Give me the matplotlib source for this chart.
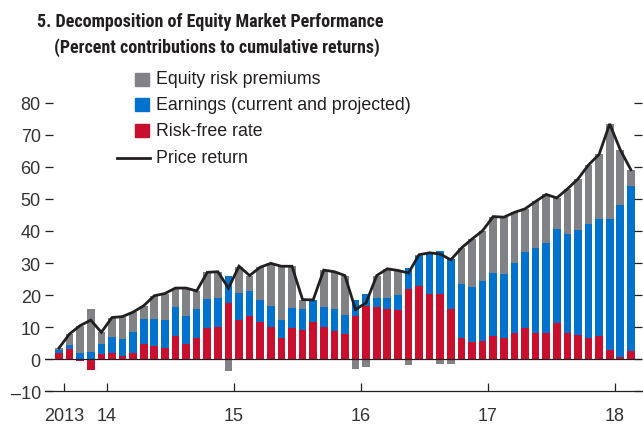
import matplotlib
matplotlib.use("Agg")
import matplotlib.pyplot as plt
from matplotlib import font_manager
from matplotlib.patches import Rectangle
from matplotlib.lines import Line2D
import numpy as np

# valores (contribuicoes em %), mensal ago/2013 - fev/2018
risk_free = [2.0, 3.3, -0.7, -3.5, 1.5, 2.1, 1.0, 2.1, 4.8, 4.2, 3.5, 7.1, 4.6, 6.7, 9.6, 10.2,
             17.6, 12.3, 13.5, 11.5, 10.1, 6.7, 9.6, 9.1, 11.5, 10.1, 8.8, 7.8, 13.5, 16.5, 16.3, 15.7,
             15.3, 22.0, 22.7, 20.4, 20.2, 15.8, 6.7, 5.4, 5.8, 7.1, 6.7, 8.2, 9.6, 8.2, 8.2, 11.4,
             8.2, 7.6, 6.7, 7.1, 2.9, 0.8, 2.7]
earnings = [0.9, 1.0, 2.0, 2.3, 3.3, 4.7, 5.3, 6.4, 7.9, 8.5, 8.8, 9.2, 8.9, 9.0, 9.2, 8.9,
            8.4, 8.4, 7.8, 7.0, 6.4, 5.6, 6.4, 6.6, 7.0, 6.2, 6.9, 6.0, 5.0, 3.9, 2.8, 3.4,
            4.8, 6.5, 9.6, 12.6, 13.6, 15.5, 16.8, 17.2, 18.7, 19.9, 19.9, 21.9, 23.9, 26.5, 28.1, 29.2,
            30.9, 32.7, 35.5, 36.7, 40.9, 47.3, 51.4]
equity_risk = [0.6, 3.6, 8.5, 13.4, 3.6, 6.2, 7.0, 6.2, 4.0, 7.1, 8.2, 5.9, 8.7, 5.6, 8.3, 8.2,
               -3.8, 8.1, 4.8, 10.2, 13.4, 16.7, 13.0, 2.9, 0.0, 11.5, 11.6, 12.3, -3.2, -2.3, 7.0, 9.1,
               7.6, -1.7, 0.3, 0.2, -1.5, -1.5, 11.2, 14.9, 15.6, 17.5, 17.7, 15.7, 13.4, 14.5, 15.1, 9.7,
               14.0, 15.9, 18.4, 20.1, 29.6, 17.2, 5.0]
price_return = [3.5, 7.9, 10.5, 12.2, 8.4, 13.0, 13.3, 14.7, 16.7, 19.8, 20.5, 22.2, 22.2, 21.3, 27.1, 27.3,
                22.2, 29.0, 26.1, 28.7, 29.9, 29.0, 29.0, 18.6, 18.5, 27.8, 27.3, 26.1, 15.5, 17.6, 26.1, 28.2,
                27.7, 26.9, 32.6, 33.2, 32.8, 31.0, 34.7, 37.5, 40.1, 44.5, 44.3, 45.8, 46.9, 49.2, 51.4, 50.3,
                53.1, 56.2, 60.6, 63.9, 73.4, 65.3, 59.1]

year_labels = ["2013", "14", "15", "16", "17", "18"]
year_pos = [0.5, 4.5, 16.5, 28.5, 40.5, 52.5]   # limites de ano entre as barras

series_names = ["Equity risk premiums", "Earnings (current and projected)", "Risk-free rate"]
c_gray = "#808285"
c_blue = "#0072CE"
c_red = "#C8102E"
c_dark = "#231F20"

plt.rcParams["font.family"] = ["Liberation Sans", "DejaVu Sans"]

# fonte estreita so para o titulo
names = {f.name for f in font_manager.fontManager.ttflist}
narrow = "Liberation Sans"
for cand in ["Liberation Sans Narrow", "Roboto Condensed", "Archivo Narrow", "Barlow Semi Condensed"]:
    if cand in names:
        narrow = cand
        break

W, H = 643, 427
fig = plt.figure(figsize=(W / 100, H / 100), dpi=100)


def fx(px):
    return px / W


def fy(py):
    return 1 - py / H


ax = fig.add_axes([fx(45), fy(392.3), fx(642) - fx(45), fy(87.7) - fy(392.3)])

x = np.arange(len(price_return))
pos = np.zeros(len(x))
neg = np.zeros(len(x))
for vals, col in [(risk_free, c_red), (earnings, c_blue), (equity_risk, c_gray)]:
    v = np.array(vals)
    bottom = np.where(v >= 0, pos, neg)
    ax.bar(x, v, bottom=bottom, width=0.72, color=col, linewidth=0)
    pos = pos + np.where(v >= 0, v, 0)
    neg = neg + np.where(v < 0, v, 0)

ax.plot(x, price_return, color=c_dark, linewidth=2.0, solid_joinstyle="miter")
ax.axhline(0, color=c_dark, linewidth=0.9)

ax.set_xlim(-1.32, 55.05)
ax.set_ylim(-10, 85)
ax.set_yticks(np.arange(-10, 81, 10))
ax.set_yticklabels(["\u201310" if t < 0 else str(t) for t in range(-10, 81, 10)])
ax.set_xticks(year_pos)
ax.set_xticklabels(year_labels)

for s in ["top", "left", "right"]:
    ax.spines[s].set_visible(False)
ax.spines["bottom"].set_color(c_dark)
ax.spines["bottom"].set_linewidth(0.9)

ax.tick_params(axis="y", direction="in", length=5.5, width=0.9, color=c_dark,
               labelsize=13, pad=3, left=True, right=True, labelcolor="#333333")
ax.tick_params(axis="x", direction="in", length=6, width=0.9, color=c_dark,
               labelsize=13, pad=11.5, labelcolor="#333333")

# titulo
fig.text(fx(37), fy(22), "5. Decomposition of Equity Market Performance", family=[narrow, "DejaVu Sans"],
         fontsize=13, fontweight="bold", va="center", ha="left", color="#231F20")
fig.text(fx(54), fy(48), "(Percent contributions to cumulative returns)", family=[narrow, "DejaVu Sans"],
         fontsize=13, fontweight="bold", va="center", ha="left", color="#231F20")

# legenda manual
rows_y = [80, 105.5, 131.5, 159]
for yy, col, name in zip(rows_y[:3], [c_gray, c_blue, c_red], series_names):
    fig.add_artist(Rectangle((fx(135), fy(yy + 6.5)), fx(14), fy(0) - fy(13),
                             color=col, transform=fig.transFigure))
    fig.text(fx(156), fy(yy), name, fontsize=12.8, va="center", ha="left", color="#231F20")
fig.add_artist(Line2D([fx(117), fx(150)], [fy(rows_y[3])] * 2, color=c_dark,
                      linewidth=2.0, transform=fig.transFigure))
fig.text(fx(156), fy(rows_y[3]), "Price return", fontsize=12.8, va="center", ha="left",
         color="#231F20")

fig.savefig("out.png", dpi=100)
